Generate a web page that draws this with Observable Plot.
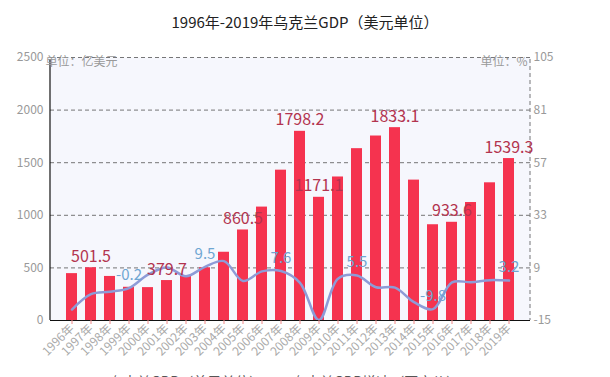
<!DOCTYPE html>
<html>
<head>
<meta charset="utf-8">
<script src="https://cdn.jsdelivr.net/npm/d3@7"></script>
<script src="https://cdn.jsdelivr.net/npm/@observablehq/plot@0.6"></script>
<style>
  html, body { margin: 0; padding: 0; background: #fff; overflow: hidden; }
  body { width: 610px; height: 377px; font-family: "Noto Sans CJK SC", "Noto Sans", sans-serif; }
  #title { height: 40px; line-height: 44px; text-align: center; font-size: 15px; color: #222; }
  #legend { position: absolute; left: 0; top: 371px; width: 610px; font-size: 14px; color: #555; white-space: nowrap; }
  .sw { display: inline-block; width: 13px; height: 10px; vertical-align: middle; margin-right: 6px; }
</style>
</head>
<body>
<div id="title">1996年-2019年乌克兰GDP（美元单位）</div>
<div id="chart"></div>
<div id="legend"><span style="position:absolute;left:90px;top:0"><span class="sw" style="background:#f5334f"></span>乌克兰GDP（美元单位）</span><span style="position:absolute;left:273px;top:0"><span class="sw" style="background:#7fb3dc"></span>乌克兰GDP增速（不变价）</span></div>
<script>
const years = ["1996年","1997年","1998年","1999年","2000年","2001年","2002年","2003年","2004年","2005年","2006年","2007年","2008年","2009年","2010年","2011年","2012年","2013年","2014年","2015年","2016年","2017年","2018年","2019年"];
const gdp = [445.6, 501.5, 418.8, 315.8, 312.6, 379.7, 423.5, 501.3, 648.8, 860.5, 1078.1, 1429.0, 1798.2, 1171.1, 1364.2, 1633.4, 1753.7, 1833.1, 1334.5, 910.3, 933.6, 1121.5, 1308.9, 1539.3];
const growth = [-10.0, -3.0, -1.9, -0.2, 5.9, 9.2, 5.2, 9.5, 12.1, 3.0, 7.4, 7.6, 2.2, -14.8, 4.1, 5.5, 0.2, 0.0, -6.6, -9.8, 2.4, 2.5, 3.4, 3.2];
const gdpLabelYears = ["1997年","2001年","2005年","2008年","2009年","2013年","2016年","2019年"];
const growthLabelYears = ["1999年","2003年","2007年","2011年","2015年","2019年"];
const leftTicks = [0, 500, 1000, 1500, 2000, 2500];
const rightTicks = [-15, 9, 33, 57, 81, 105];
const leftUnit = "单位：亿美元";
const rightUnit = "单位：%";

// map right-axis (growth %) values onto the left (GDP) scale domain
const r2l = d3.scaleLinear().domain([-15, 105]).range([0, 2500]);
const l2r = r2l.invert;

const data = years.map((y, i) => ({year: y, gdp: gdp[i], growth: growth[i], g: r2l(growth[i])}));

const vline = (side, dash) => (index, scales, values, dim) => {
  const x = side === "left" ? dim.marginLeft : dim.width - dim.marginRight;
  const g = d3.create("svg:line")
    .attr("x1", x).attr("x2", x)
    .attr("y1", dim.marginTop + 2).attr("y2", dim.height - dim.marginBottom)
    .attr("stroke", side === "left" ? "#111" : "#777")
    .attr("stroke-width", side === "left" ? 1.2 : 1);
  if (dash) g.attr("stroke-dasharray", "4,3");
  return g.node();
};

const chart = Plot.plot({
  width: 610,
  height: 330,
  marginTop: 17,
  marginLeft: 50,
  marginRight: 80,
  marginBottom: 50,
  style: {fontFamily: "'Noto Sans CJK SC', 'Noto Sans', sans-serif", background: "transparent"},
  x: {domain: years, padding: 0.4, label: null},
  y: {domain: [0, 2500], label: null},
  marks: [
    Plot.frame({fill: "#f6f7fd", stroke: null}),
    Plot.gridY(leftTicks.filter(d => d > 0), {stroke: "#555", strokeOpacity: 0.8, strokeDasharray: "4,3"}),
    Plot.barY(data, {x: "year", y: "gdp", fill: "#f5334f"}),
    Plot.line(data, {x: "year", y: "g", stroke: "#8d9bd7", strokeWidth: 2.5, curve: "catmull-rom"}),
    vline("left", false),
    vline("right", true),
    Plot.ruleY([0], {stroke: "#111", strokeWidth: 1.2}),
    Plot.axisX({tickRotate: -45, tickSize: 4, tickPadding: 2, fontSize: 12, color: "#aaa", stroke: "#e88", label: null}),
    Plot.axisY({ticks: leftTicks, tickSize: 0, tickPadding: 7, fontSize: 12, color: "#999", label: null,
      tickFormat: d => String(d)}),
    Plot.axisY({anchor: "right", ticks: leftTicks, tickSize: 0, tickPadding: 3, fontSize: 12, color: "#999", label: null,
      tickFormat: d => String(Math.round(l2r(d)))}),
    Plot.text([leftUnit], {frameAnchor: "top-left", textAnchor: "start", dx: -5, dy: 0, fontSize: 12, fill: "#999"}),
    Plot.text([rightUnit], {frameAnchor: "top-right", textAnchor: "end", dx: -3, dy: 0, fontSize: 12, fill: "#999"}),
    Plot.text(data.filter(d => gdpLabelYears.includes(d.year)), {x: "year", y: "gdp", text: d => d.gdp.toFixed(1), dy: -11, fontSize: 16, fill: "#b3344f"}),
    Plot.text(data.filter(d => growthLabelYears.includes(d.year)), {x: "year", y: "g", text: d => d.growth.toFixed(1), dy: -13, fontSize: 15, fill: "#6fa6d2"})
  ]
});
document.getElementById("chart").appendChild(chart);
</script>
</body>
</html>
